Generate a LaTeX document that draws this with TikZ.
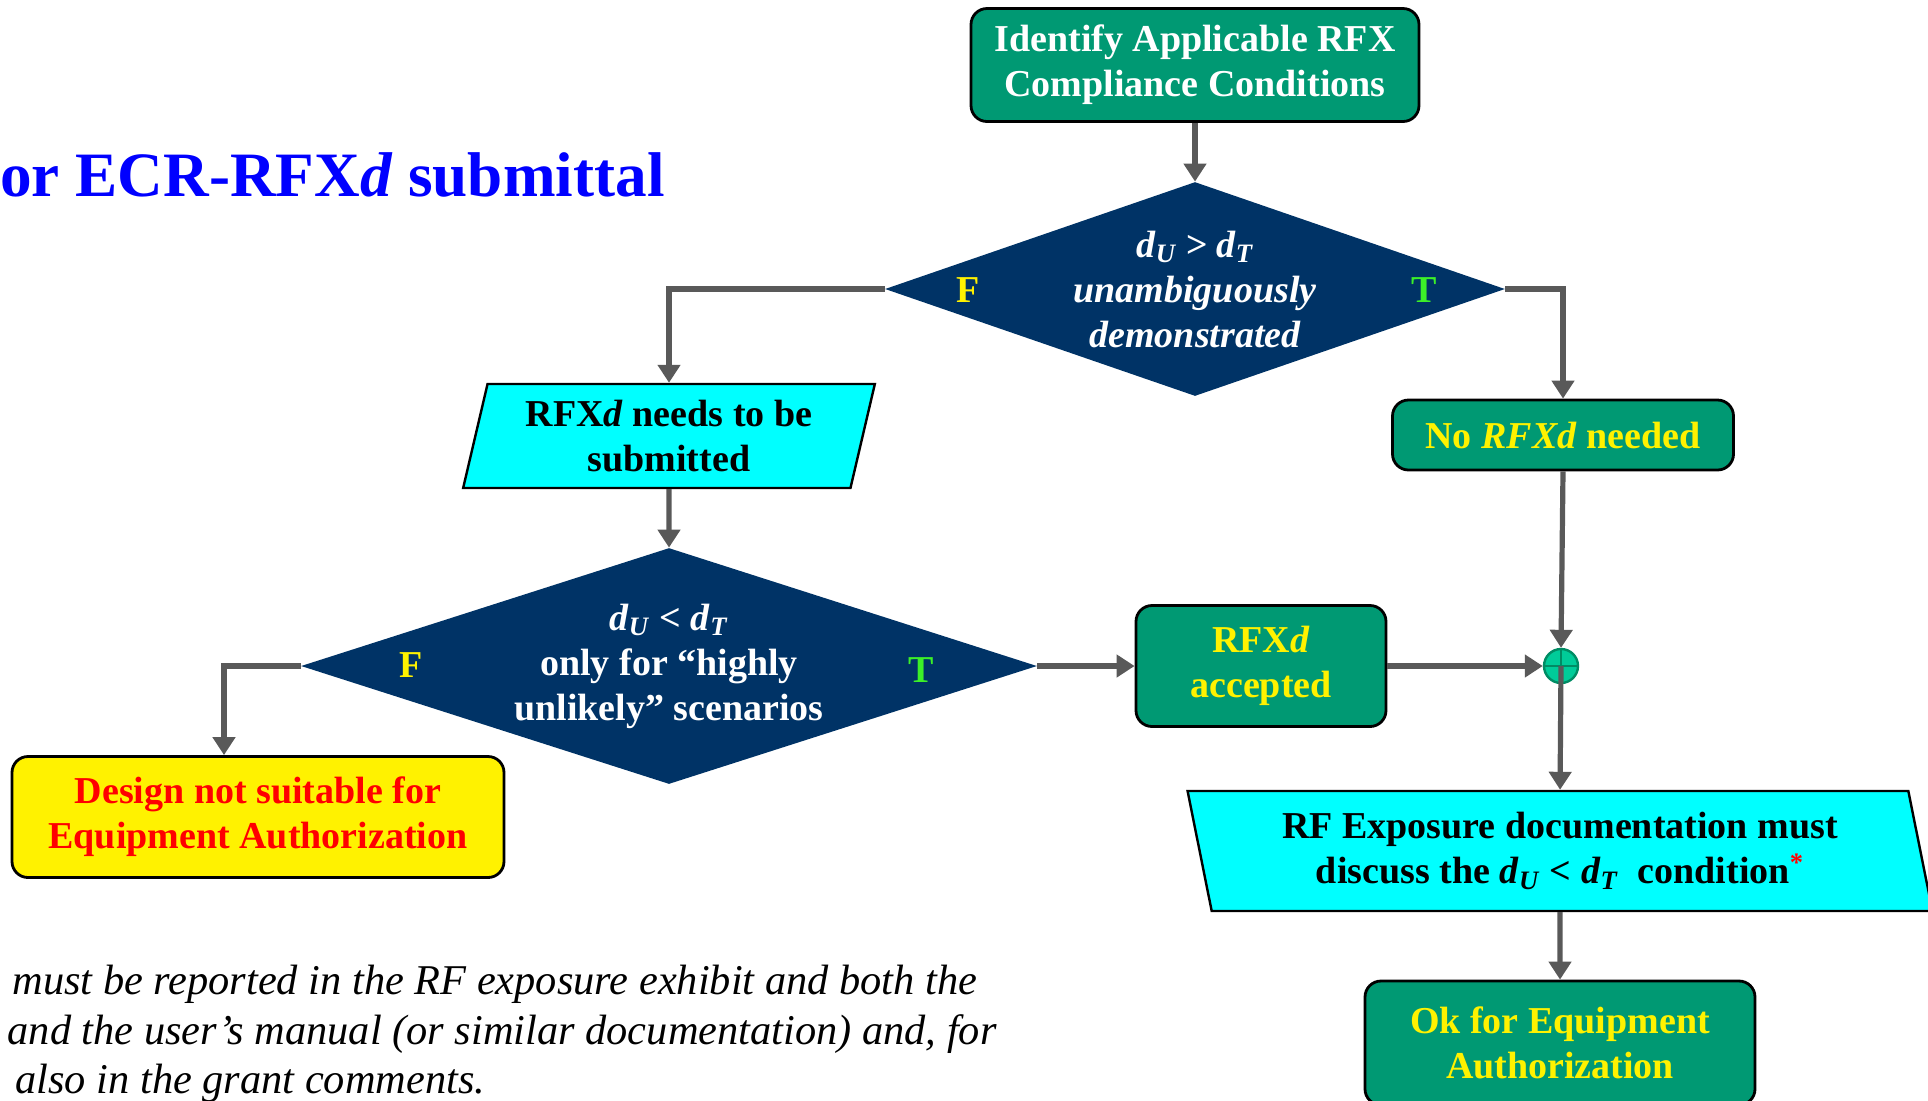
\documentclass[tikz,border=0pt]{standalone}
\usepackage{fontspec}
\setmainfont{Liberation Serif}
\usepackage{tikz}
\usetikzlibrary{arrows.meta,positioning,shapes.geometric,calc}

\definecolor{boxgreen}{RGB}{0,153,115}
\definecolor{decnavy}{RGB}{0,51,102}
\definecolor{iocyan}{RGB}{0,255,255}
\definecolor{tgreen}{RGB}{60,240,40}
\definecolor{flowgray}{RGB}{89,89,89}
\definecolor{jnfill}{RGB}{0,204,153}
\definecolor{jnline}{RGB}{0,140,100}

\newcommand{\dvar}[1]{\textit{d}\textsubscript{\textit{#1}}}

\begin{document}
\begin{tikzpicture}[x=0.5pt, y=-0.5pt, font=\fontsize{19}{22.5}\selectfont\bfseries,
	greenbox/.style={draw=black, line width=1.4pt, fill=boxgreen, rounded corners=8pt, align=center, inner sep=0pt},
	decision/.style={diamond, fill=decnavy, text=white, align=center, inner sep=-8pt},
	iobox/.style={trapezium, trapezium stretches=true, draw=black, line width=1.2pt, fill=iocyan, align=center, inner sep=0pt},
	flow/.style={draw=flowgray, line width=2.6pt, -{Triangle[length=9pt, width=11pt]}},
	notetext/.style={font=\fontsize{21.2}{25}\selectfont\itshape, inner sep=0pt}]
	\useasboundingbox (0,0) rectangle (1928,1100);
	\node[anchor=base east, text=blue, font=\fontsize{31.6}{36}\selectfont\bfseries, inner sep=0pt] (title) at (665,196) {or ECR-RFX\textit{d} submittal};
	\node[greenbox, text=white, minimum width=224pt, minimum height=56.5pt] (ident) at (1195,65) {Identify Applicable RFX\\Compliance Conditions};
	\node[decision, aspect=2.9, minimum width=310pt, minimum height=107pt, font=\fontsize{19}{22.5}\selectfont\bfseries\itshape] (unamb) at (1195,289) {\dvar{U} > \dvar{T}\\unambiguously\\demonstrated};
	\node[text=yellow] (unambF) at (968,290) {F};
	\node[text=tgreen] (unambT) at (1424,290) {T};
	\node[iobox, trapezium left angle=75, trapezium right angle=105, minimum width=206pt, minimum height=52pt] (submit) at (669,436) {RFX\textit{d} needs to be\\submitted};
	\node[greenbox, text=yellow, minimum width=170.5pt, minimum height=35pt] (norfx) at (1563,435) {No \textit{RFXd} needed};
	\node[decision, aspect=3.1, minimum width=368pt, minimum height=118pt] (unlikely) at (669,666) {\dvar{U} < \dvar{T}\\only for “highly\\unlikely” scenarios};
	\node[text=yellow] (unlikelyF) at (411,665) {F};
	\node[text=tgreen] (unlikelyT) at (921,670) {T};
	\node[greenbox, text=yellow, minimum width=125pt, minimum height=60.5pt] (accepted) at (1261,666) {RFX\textit{d}\\accepted};
	\node[circle, draw=jnline, line width=1.2pt, fill=jnfill, minimum size=17pt, inner sep=0pt] (join) at (1561,666) {};
	\draw[jnline, line width=1pt] (join.north) -- (join.south) (join.west) -- (join.east);
	\node[draw=black, line width=1.4pt, fill=yellow, text=red, rounded corners=8pt, align=center, minimum width=246pt, minimum height=60.5pt] (unsuit) at (258,817) {Design not suitable for\\Equipment Authorization};
	\node[iobox, trapezium left angle=104, trapezium right angle=76, minimum width=373.5pt, minimum height=60pt] (rfdoc) at (1560,851) {RF Exposure documentation must\\discuss the \dvar{U} < \dvar{T}\ \ condition\textsuperscript{\textcolor{red}{*}}};
	\node[greenbox, text=yellow, minimum width=195pt, minimum height=62pt] (okea) at (1560,1043) {Ok for Equipment\\Authorization};
	\node[notetext, anchor=base west] (note1) at (12,994) {must be reported in the RF exposure exhibit and both the};
	\node[notetext, anchor=base east] (note2) at (997,1044) {and the user’s manual (or similar documentation) and, for};
	\node[notetext, anchor=base west] (note3) at (15,1093) {also in the grant comments.};
	\draw[flow] (ident) -- (unamb);
	\draw[flow] (unamb.west) -| (submit.north);
	\draw[flow] (unamb.east) -| (norfx.north);
	\draw[flow] (submit) -- (unlikely);
	\draw[flow] (unlikely.west) -| ([xshift=-17pt]unsuit.north);
	\draw[flow] (unlikely.east) -- (accepted.west);
	\draw[flow] (accepted.east) -- (join.west);
	\draw[flow] (norfx.south) -- (join.north);
	\draw[flow] (join.center) -- (rfdoc.north);
	\draw[flow] (rfdoc.south) -- (okea.north);
\end{tikzpicture}
\end{document}
